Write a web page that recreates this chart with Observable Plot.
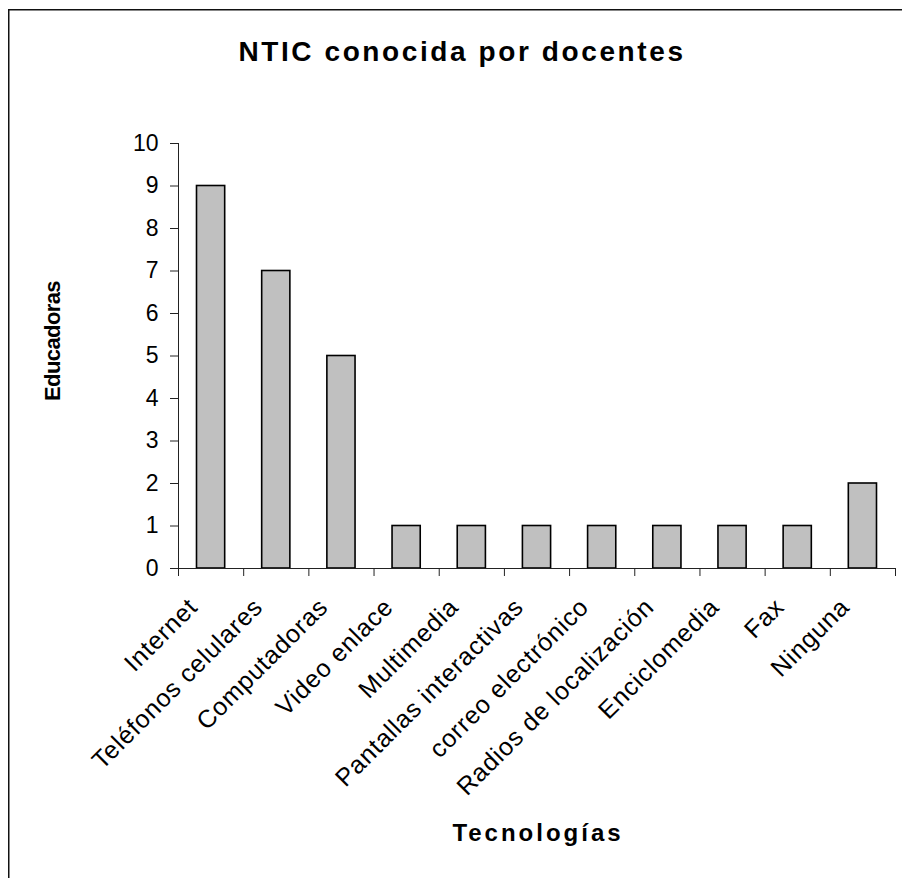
<!DOCTYPE html>
<html>
<head>
<meta charset="utf-8">
<script src="https://cdn.jsdelivr.net/npm/d3@7"></script>
<script src="https://cdn.jsdelivr.net/npm/@observablehq/plot@0.6"></script>
<style>
  html, body { margin: 0; padding: 0; background: #fff; }
  #wrap { position: relative; width: 902px; height: 878px; font-family: "Liberation Sans", Arial, sans-serif; }
  #frame { position: absolute; left: 0; top: 0; z-index: 3; pointer-events: none; }
  #title { position: absolute; left: 0; width: 924px; top: 36px; text-align: center; font-size: 28px; font-weight: bold; letter-spacing: 2.6px; color: #000; z-index: 2; white-space: nowrap; }
  #ytitle { position: absolute; left: 53px; top: 341px; transform: translate(-50%, -50%) rotate(-90deg); font-size: 22px; font-weight: bold; letter-spacing: -0.6px; white-space: nowrap; z-index: 2; }
  #xtitle { position: absolute; left: 538px; top: 833px; transform: translate(-50%, -50%); font-size: 24px; font-weight: bold; letter-spacing: 3px; white-space: nowrap; z-index: 2; }
  #chart { position: absolute; left: 0; top: 0; z-index: 1; }
</style>
</head>
<body>
<div id="wrap">
  <div id="chart"></div>
  <div id="title">NTIC conocida por docentes</div>
  <div id="ytitle">Educadoras</div>
  <div id="xtitle">Tecnologías</div>
  <svg id="frame" width="902" height="878"><path d="M8.75,878V9.75H902" fill="none" stroke="#111" stroke-width="1.5"/></svg>
</div>
<script>
const categories = ["Internet", "Teléfonos celulares", "Computadoras", "Video enlace", "Multimedia", "Pantallas interactivas", "correo electrónico", "Radios de localización", "Enciclomedia", "Fax", "Ninguna"];
const values = [9, 7, 5, 1, 1, 1, 1, 1, 1, 1, 2];
const yTicks = [0, 1, 2, 3, 4, 5, 6, 7, 8, 9, 10];

const data = categories.map((c, i) => ({cat: c, i, v: values[i]}));
const bounds = d3.range(0, categories.length + 1);

const plot = Plot.plot({
  width: 902,
  height: 878,
  marginLeft: 178,
  marginRight: 7,
  marginTop: 143,
  marginBottom: 310,
  style: {background: "transparent", fontFamily: "Liberation Sans, Arial, sans-serif", color: "#000"},
  x: {domain: [0, categories.length], axis: null},
  y: {domain: [0, 10], axis: null},
  marks: [
    Plot.rectY(data, {x1: d => d.i, x2: d => d.i + 1, y: "v", insetLeft: 18.5, insetRight: 18.5, fill: "#c0c0c0", stroke: "#000", strokeWidth: 1.6}),
    Plot.ruleY([0], {stroke: "#222", strokeWidth: 1}),
    Plot.ruleX([0], {y1: 0, y2: 10, stroke: "#222", strokeWidth: 1}),
    Plot.axisX({ticks: bounds, tickFormat: () => "", tickSize: 8, stroke: "#222", label: null}),
    Plot.axisY({ticks: yTicks, tickSize: 8, tickPadding: 12, fontSize: 23, stroke: "#222", label: null}),
    Plot.text(data, {x: d => d.i + 0.5, text: "cat", frameAnchor: "bottom", rotate: -45, textAnchor: "end", lineAnchor: "bottom", dy: 40, dx: -12, fontSize: 25, fill: "#000"})
  ]
});
plot.querySelectorAll('g[aria-label="text"] text').forEach(t => { t.style.letterSpacing = "0.8px"; });
document.getElementById("chart").appendChild(plot);
</script>
</body>
</html>
